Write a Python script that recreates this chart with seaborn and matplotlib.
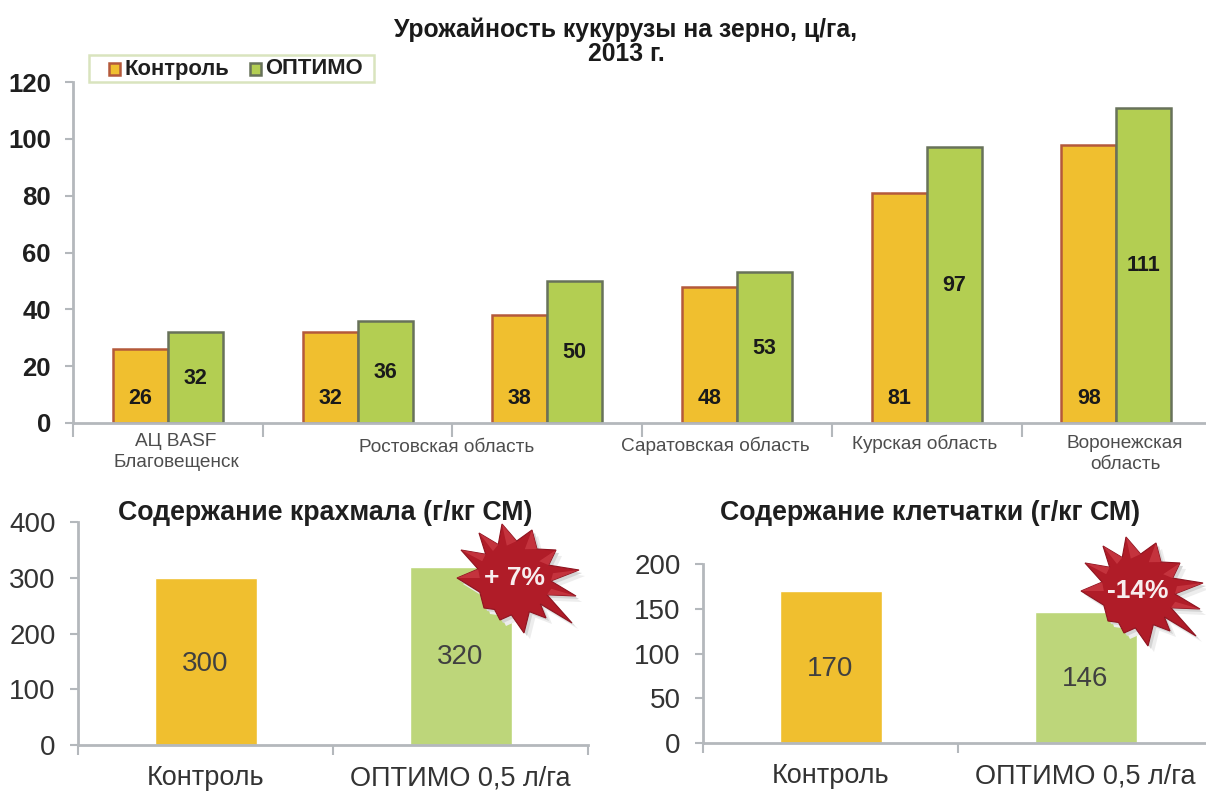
import numpy as np
import pandas as pd
import seaborn as sns
import matplotlib.pyplot as plt
from matplotlib.patches import Polygon

groups = ['АЦ BASF', 'Ростов 1', 'Ростов 2', 'Саратов', 'Курск', 'Воронеж']
control = [26, 32, 38, 48, 81, 98]
optimo = [32, 36, 50, 53, 97, 111]
region_labels = ['АЦ BASF\nБлаговещенск', 'Ростовская область', 'Саратовская область',
                 'Курская область', 'Воронежская\nобласть']
quality_cats = ['Контроль', 'ОПТИМО 0,5 л/га']
starch = [300, 320]
fiber = [170, 146]

W, H = 1206, 792
ORANGE = '#F0BF2F'
GREEN = '#B3CE52'
LIGHT_GREEN = '#BDD67A'
AXIS = '#B4B8BC'

sns.set_theme(style='white')
plt.rcParams['font.family'] = ['Liberation Sans', 'DejaVu Sans']

fig = plt.figure(figsize=(W / 100, H / 100), dpi=100)


def make_axes(left, right, top, bottom):
    return fig.add_axes([left / W, 1 - bottom / H, (right - left) / W, (bottom - top) / H])


def style_axes(ax, ticksize, ticks_y):
    sns.despine(ax=ax)
    for s in ['left', 'bottom']:
        ax.spines[s].set_color(AXIS)
        ax.spines[s].set_linewidth(2)
    ax.set_yticks(ticks_y)
    ax.set_xlabel('')
    ax.set_ylabel('')
    ax.tick_params(axis='y', left=True, length=6, width=1.5, color=AXIS, labelsize=ticksize, pad=10)


# top chart
ax = make_axes(73, 1205, 82, 423)
df = pd.DataFrame({'group': groups * 2,
                   'series': ['Контроль'] * 6 + ['ОПТИМО'] * 6,
                   'value': control + optimo})
sns.barplot(data=df, x='group', y='value', hue='series', palette=[ORANGE, GREEN],
            width=0.58, gap=0, legend=False, saturation=1, ax=ax)
for bar_set, edge in zip(ax.containers, ['#B4593B', '#68725A']):
    for b in bar_set:
        b.set_edgecolor(edge)
        b.set_linewidth(1.8)
ax.set_xlim(-0.5, 5.467)
ax.set_ylim(0, 120)
style_axes(ax, 18.5, range(0, 121, 20))
for t in ax.get_yticklabels():
    t.set_fontweight('bold')
    t.set_color('#1f1f1f')
ax.set_xticks(np.arange(-0.5, 5.4, 1))
ax.set_xticklabels([])
ax.tick_params(axis='x', bottom=True, length=10, width=1.5, color=AXIS, direction='out')

for i, c in enumerate(ax.containers[0]):
    ax.text(c.get_x() + c.get_width() / 2, 8.7, control[i], ha='center', va='center',
            fontsize=15.5, fontweight='bold', color='#1a1a1a')
for i, c in enumerate(ax.containers[1]):
    ax.text(c.get_x() + c.get_width() / 2, optimo[i] / 2 - 0.2, optimo[i], ha='center', va='center',
            fontsize=15.5, fontweight='bold', color='#1a1a1a')

label_px = [(176, 452), (447, 447), (715, 446), (925, 444), (1125, 454)]
for txt, (px, py) in zip(region_labels, label_px):
    fig.text(px / W, 1 - py / H, txt, ha='center', va='center', fontsize=13.7,
             color='#4d4d4d', linespacing=1.3)

fig.text(626 / W, 1 - 42 / H, 'Урожайность кукурузы на зерно, ц/га,\n2013 г.', ha='center',
         va='center', fontsize=17.8, fontweight='bold', color='#1a1a1a', linespacing=1.0)

# legend box, drawn as fig artists so it sits over the top of the axis
fig.add_artist(plt.Rectangle((89 / W, 1 - 82 / H), 285 / W, 27 / H, facecolor='white',
                             edgecolor='#D9E4BE', linewidth=1.8))
fig.add_artist(plt.Rectangle((109 / W, 1 - 75 / H), 11 / W, 12 / H, facecolor=ORANGE,
                             edgecolor='#B4593B', linewidth=1.8))
fig.add_artist(plt.Rectangle((250 / W, 1 - 75 / H), 11 / W, 12 / H, facecolor=GREEN,
                             edgecolor='#68725A', linewidth=1.8))
fig.text(125 / W, 1 - 69 / H, 'Контроль', va='center', fontsize=15.8, fontweight='bold', color='#1f1f1f')
fig.text(265 / W, 1 - 69 / H, 'ОПТИМО', va='center', fontsize=15.8, fontweight='bold', color='#1f1f1f')


# bottom charts
def quality_chart(left, top, bottom, values, ymax, step, title, title_x, title_y, value_pos):
    right = min(left + 510, W - 1)
    a = make_axes(left, right, top, bottom)
    d = pd.DataFrame({'cat': quality_cats, 'value': values})
    sns.barplot(data=d, x='cat', y='value', hue='cat', palette=[ORANGE, LIGHT_GREEN],
                width=0.4, legend=False, saturation=1, ax=a)
    a.set_ylim(0, ymax)
    style_axes(a, 20, range(0, ymax + 1, step))
    for t in a.get_yticklabels():
        t.set_color('#333333')
    a.set_xticks([0, 1])
    a.set_xticklabels(quality_cats, fontsize=19.5, color='#333333')
    a.set_xlim(-0.5, (right - left) / 255 - 0.5)
    a.set_xticks([x for x in [-0.5, 0.5, 1.5] if x <= a.get_xlim()[1]], minor=True)
    a.tick_params(axis='x', which='major', bottom=False, pad=8.5)
    a.tick_params(axis='x', which='minor', bottom=True, length=7, width=1.5, color=AXIS)
    for i, v in enumerate(values):
        a.text(i, value_pos[i], v, ha='center', va='center', fontsize=20, color='#404040')
    fig.text(title_x / W, 1 - title_y / H, title, ha='center', va='center',
             fontsize=19.3, fontweight='bold', color='#1f1f1f')
    return a


quality_chart(78, 522, 745, starch, 400, 100, 'Содержание крахмала (г/кг СМ)', 325, 513, [146, 158])
quality_chart(703, 564, 743, fiber, 200, 50, 'Содержание клетчатки (г/кг СМ)', 930, 513, [83, 71])

# burst outline: spike tips relative to the badge centre, in pixels
tip_dx = [65, 62, 58, 32, 10, -14, -30, -57, -53, -35, -12, 18, 42]
tip_dy = [-8, 18, 45, 40, 55, 42, 30, 0, -28, -45, -54, -48, -28]
VALLEY_R = 37


def burst(cx, cy, label, fs):
    tips = np.c_[tip_dx, tip_dy].astype(float)
    ang = np.arctan2(tips[:, 1], tips[:, 0])
    nxt = np.roll(ang, -1)
    diff = (nxt - ang + np.pi) % (2 * np.pi) - np.pi
    mid = ang + diff / 2
    valleys = np.c_[VALLEY_R * np.cos(mid), VALLEY_R * np.sin(mid)]
    pts = np.empty((len(tips) * 2, 2))
    pts[0::2] = tips
    pts[1::2] = valleys

    def to_fig(p, off=0):
        return np.c_[(cx + p[:, 0] + off) / W, 1 - (cy + p[:, 1] + off) / H]

    for off, col in [(6, '#EDEDED'), (3, '#D4D4D4')]:
        fig.add_artist(Polygon(to_fig(pts, off), closed=True, transform=fig.transFigure,
                               facecolor=col, edgecolor='none'))
    fig.add_artist(Polygon(to_fig(pts), closed=True, transform=fig.transFigure,
                           facecolor='#B01C28', edgecolor='#8E1420', linewidth=0.8))
    # lighter facet along the spikes on the upper side only
    for k in range(len(tips)):
        if tips[k, 1] < 25:
            tri = np.array([tips[k], valleys[k], tips[k] * 0.6])
            fig.add_artist(Polygon(to_fig(tri), closed=True, transform=fig.transFigure,
                                   facecolor='#D64650', edgecolor='none', alpha=0.55))
    fig.text(cx / W, 1 - cy / H, label, ha='center', va='center', fontsize=fs,
             fontweight='bold', color='#F7EDEE')


burst(514, 578, '+ 7%', 19)
burst(1138, 591, '-14%', 19)

plt.savefig('out.png', dpi=100)
